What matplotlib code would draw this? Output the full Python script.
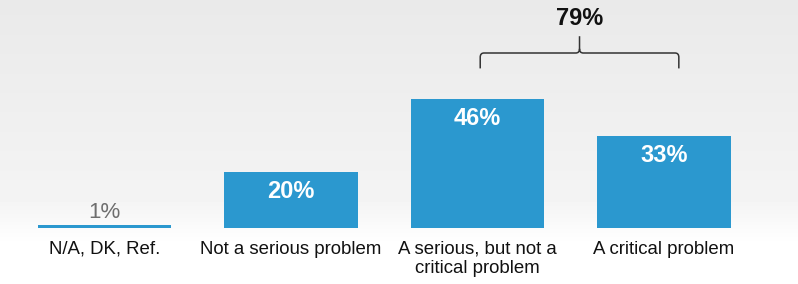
import numpy as np
import matplotlib
matplotlib.use("Agg")
import matplotlib.pyplot as plt
from matplotlib.path import Path
from matplotlib.patches import PathPatch

# ─────────────────────────────────────────────
# DATA
# ─────────────────────────────────────────────
categories = ["N/A, DK, Ref.", "Not a serious problem",
              "A serious, but not a\ncritical problem", "A critical problem"]
values     = [1, 20, 46, 33]
value_labels = ["1%", "20%", "46%", "33%"]
bracket_idx   = [2, 3]
bracket_label = "79%"

BLUE = "#2b98cf"
plt.rcParams["font.family"] = ["Liberation Sans", "DejaVu Sans"]

fig = plt.figure(figsize=(7.98, 2.84), dpi=100)

# soft grey backdrop fading to white at the bottom
bg = fig.add_axes([0, 0, 1, 1], zorder=0)
rows = 284
grad = np.ones(rows)
grad[:200] = np.linspace(0.915, 0.955, 200)
grad[200:245] = np.linspace(0.955, 1.0, 45)
bg.imshow(np.tile(grad[:, None], (1, 10)), cmap="gray", vmin=0, vmax=1,
          aspect="auto", extent=[0, 1, 0, 1])
bg.axis("off")

ax = fig.add_axes([0, 0, 1, 1], zorder=1)
ax.patch.set_alpha(0)
x = np.arange(len(categories))
ax.bar(x, values, width=0.715, color=BLUE, linewidth=0)

ax.set_xlim(-0.560, 3.719)
ax.set_ylim(-20, 81.43)
ax.axis("off")

for xi, v, lab in zip(x, values, value_labels):
    if v < 5:
        ax.text(xi, v + 4.5, lab, ha="center", va="center",
                fontsize=16, color="#6e6e6e")
    else:
        ax.text(xi, v - 7, lab, ha="center", va="center",
                fontsize=17, color="white", fontweight="bold")

for xi, c in zip(x, categories):
    ax.text(xi, -4.6, c, ha="center", va="top", fontsize=13.4,
            color="#111111", linespacing=1.18)

# curly bracket over the two "problem" bars
x0 = bracket_idx[0] + 0.015
x1 = bracket_idx[1] + 0.08
xm = (x0 + x1) / 2
yb = max(values[i] for i in bracket_idx) + 11
yl = yb + 5.5
yt = yl + 6
r = 0.02
verts = [(x0, yb), (x0, yl - 1.5), (x0, yl), (x0 + r, yl),
         (xm - r, yl), (xm, yl), (xm, yl + 1.5), (xm, yt),
         (xm, yl + 1.5), (xm, yl), (xm + r, yl),
         (x1 - r, yl), (x1, yl), (x1, yl - 1.5), (x1, yb)]
codes = [Path.MOVETO, Path.LINETO, Path.CURVE3, Path.CURVE3,
         Path.LINETO, Path.CURVE3, Path.CURVE3, Path.LINETO,
         Path.MOVETO, Path.CURVE3, Path.CURVE3,
         Path.LINETO, Path.CURVE3, Path.CURVE3, Path.LINETO]
ax.add_patch(PathPatch(Path(verts, codes), fill=False, lw=1.1,
                       edgecolor="#333333"))
ax.text(xm, yt + 6.3, bracket_label, ha="center", va="center",
        fontsize=17, fontweight="bold", color="#111111")

fig.savefig("out.png", dpi=100)
